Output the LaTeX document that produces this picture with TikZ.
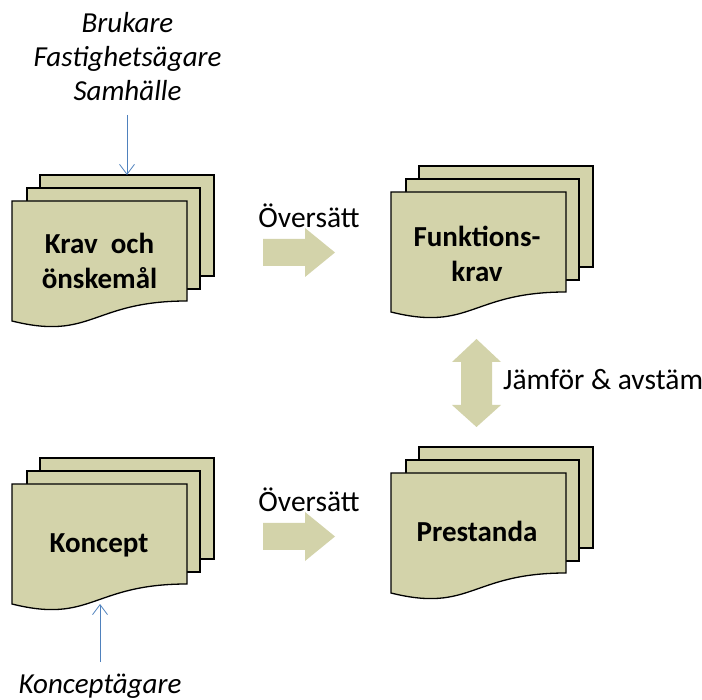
\documentclass[tikz,border=0pt]{standalone}
\usepackage{fontspec}
\setmainfont{Carlito}
\usetikzlibrary{arrows.meta}

\definecolor{sheetfill}{HTML}{D3D3AA}
\definecolor{arrowfill}{HTML}{D3D3AA}
\definecolor{feedline}{HTML}{4F81BD}

\tikzset{
  sheet/.style={fill=sheetfill, draw=black, line width=1.3pt, line join=miter},
  blockarrow/.style={fill=arrowfill, draw=none},
  verb/.style={font=\fontsize{29.5}{35}\selectfont, inner sep=0pt},
  doclabel/.style={font=\fontsize{29}{35}\selectfont\bfseries, align=center, inner sep=0pt},
  actor/.style={font=\fontsize{29}{34}\selectfont\itshape, align=center, inner sep=0pt},
  feed/.style={draw=feedline, line width=0.8pt,
    -{Straight Barb[length=10pt,width=15pt,line width=0.8pt]}}
}

% Stack of three document sheets.
% #1 name, #2 left edge of the front sheet, #3 top edge of the back sheet
\newcommand\docstack[3]{%
  \path[sheet] (#2+28,#3) rectangle (#2+202,#3+101);
  \path[sheet] (#2+15,#3+13) rectangle (#2+188,#3+114);
  \path[sheet] (#2,#3+26) -- (#2+175,#3+26) -- (#2+175,#3+126)
    .. controls (#2+80,#3+126) and (#2+80,#3+166) .. (#2,#3+146) -- cycle;
  \coordinate (#1-top) at (#2+115,#3);
  \coordinate (#1-bottom) at (#2+88,#3+146);
}

\begin{document}
\begin{tikzpicture}[x=1pt, y=-1pt]
\useasboundingbox (0,0) rectangle (702,700);

% document stacks
\docstack{krav}{12}{175}
\docstack{koncept}{12}{458}
\docstack{funk}{391}{166}
\docstack{prest}{391}{447}

% labels inside the stacks
\node[doclabel] (kravlbl) at (99.5,261) {Krav\ \ och\\önskemål};
\node[doclabel, anchor=base] (konceptlbl) at (99,552) {Koncept};
\node[doclabel] (funklbl) at (477,254) {Funktions-\\krav};
\node[doclabel, anchor=base] (prestlbl) at (477,542) {Prestanda};

% block arrows "Översätt"
\path[blockarrow] (263,239) -- (305,239) -- (305,228) -- (335,252.5)
  -- (305,277) -- (305,266) -- (263,266) -- cycle;
\path[blockarrow] (263,523) -- (305,523) -- (305,512) -- (335,536.5)
  -- (305,561) -- (305,550) -- (263,550) -- cycle;
\node[verb, anchor=base] (trans1) at (309,228) {Översätt};
\node[verb, anchor=base] (trans2) at (309,512) {Översätt};

% double arrow between Funktionskrav and Prestanda
\path[blockarrow] (476.5,339) -- (501,362) -- (492,362) -- (492,405)
  -- (501,405) -- (476.5,427) -- (452,405) -- (461,405) -- (461,362)
  -- (452,362) -- cycle;
\node[verb, anchor=base west] (compare) at (503,390) {Jämför \& avstäm};

% stakeholders and their inputs
\node[actor] (actors) at (127.5,57) {Brukare\\Fastighetsägare\\Samhälle};
\node[actor, anchor=base] (owner) at (100,693) {Konceptägare};
\coordinate (actors-feed) at (127,115);
\coordinate (owner-feed) at (100,662);
\draw[feed] (actors-feed) -- (krav-top);
\draw[feed] (owner-feed) -- (koncept-bottom);
\end{tikzpicture}
\end{document}
